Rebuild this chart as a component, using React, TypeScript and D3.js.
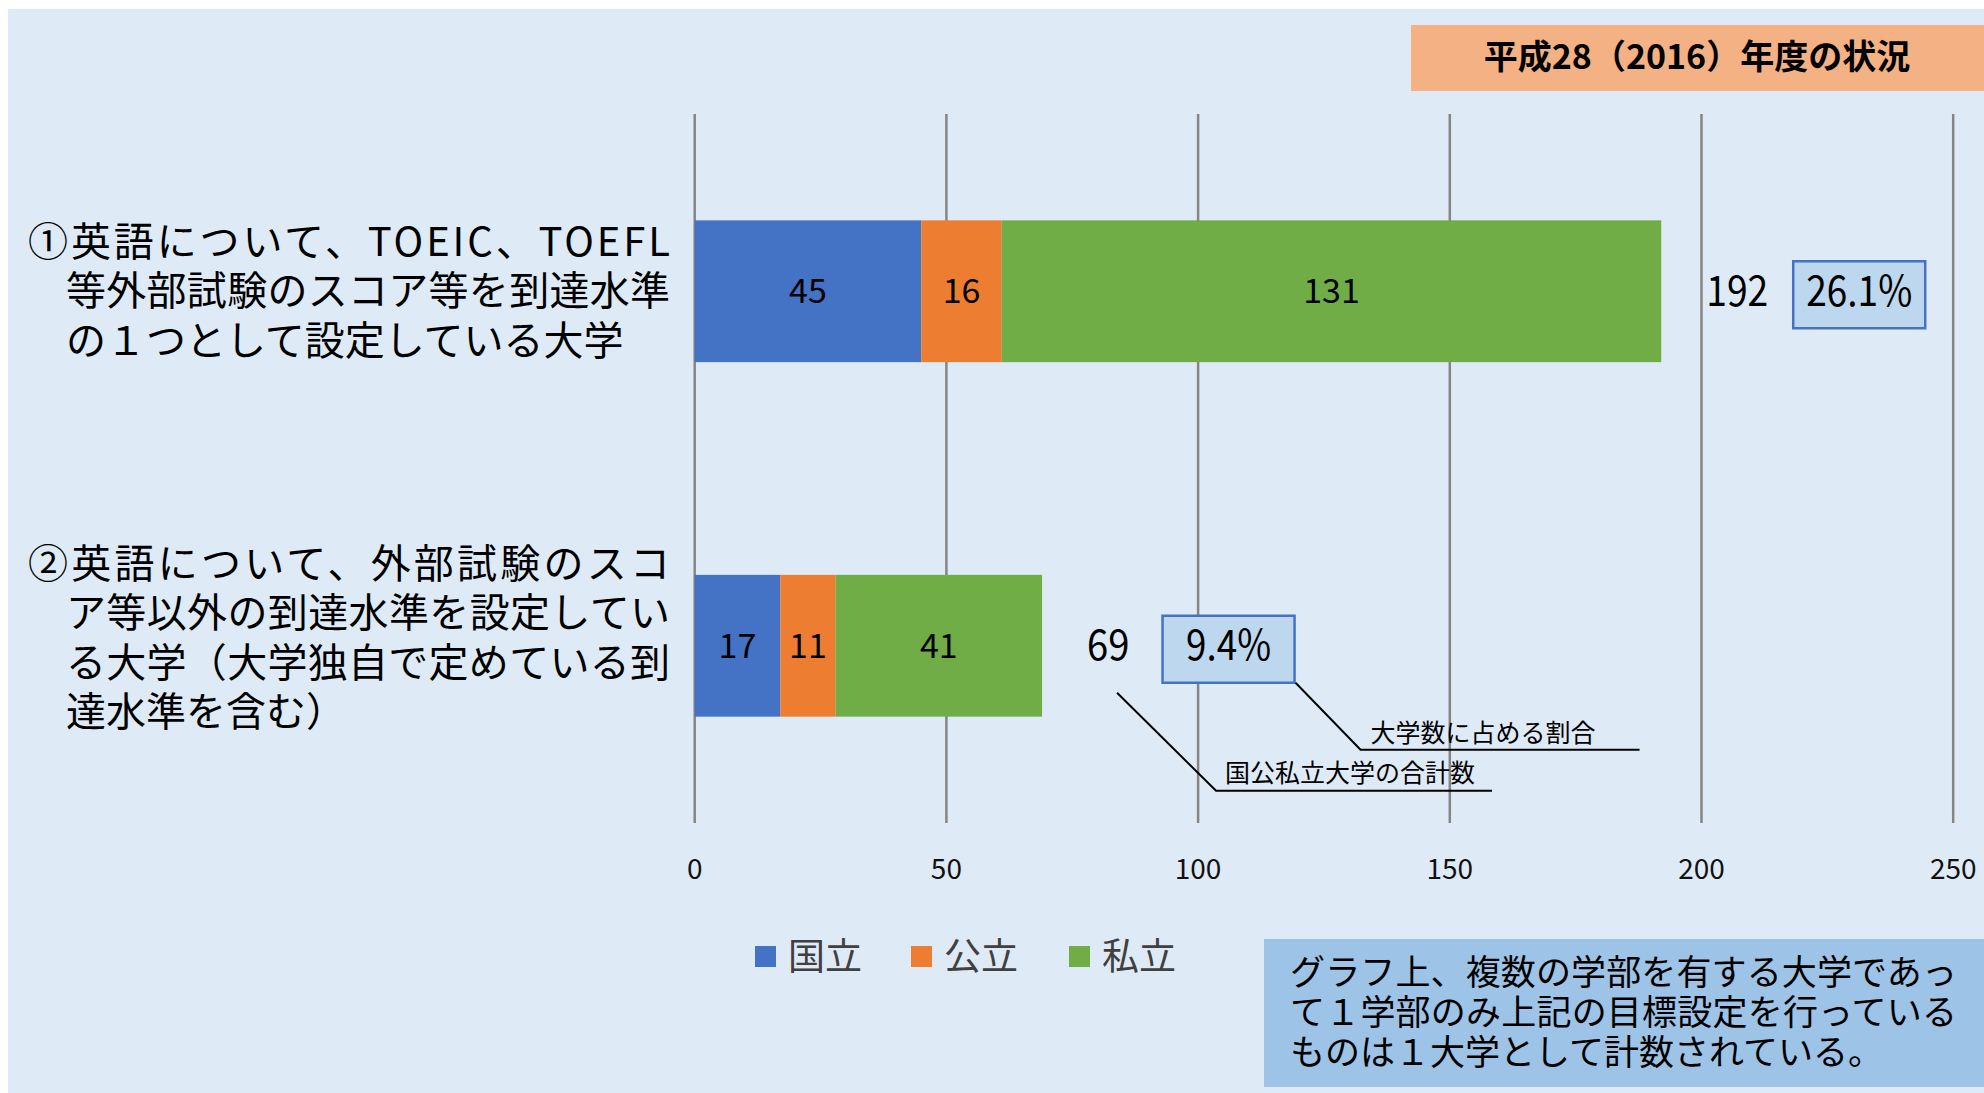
import React from 'react';
import * as d3 from 'd3';

// data
const categories = ['c1', 'c2'];
const labelLines = [
  ['①英語について、TOEIC、TOEFL', '等外部試験のスコア等を到達水準', 'の１つとして設定している大学'],
  ['②英語について、外部試験のスコ', 'ア等以外の到達水準を設定してい', 'る大学（大学独自で定めている到', '達水準を含む）'],
];
const seriesNames = ['国立', '公立', '私立'];
const seriesColors = ['#4472C4', '#ED7D31', '#70AD47'];
const kokuritsu = [45, 17];
const kouritsu = [16, 11];
const shiritsu = [131, 41];
const totals = [192, 69];
const shares = ['26.1%', '9.4%'];
const xTicks = [0, 50, 100, 150, 200, 250];

const title = '平成28（2016）年度の状況';
const noteLines = [
  'グラフ上、複数の学部を有する大学であっ',
  'て１学部のみ上記の目標設定を行っている',
  'ものは１大学として計数されている。',
];

const W = 1984;
const H = 1093;
const FONT = "'Noto Sans CJK JP', 'Noto Sans', sans-serif";

export default function App() {
  const x = d3.scaleLinear().domain([0, 250]).range([694.7, 1953.2]);
  const y = d3.scaleBand<string>()
    .domain(categories)
    .range([114, 823])
    .paddingInner(0.6)
    .paddingOuter(0.3);

  const rows = categories.map((c, i) => ({ c, vals: [kokuritsu[i], kouritsu[i], shiritsu[i]] }));
  const stacked = rows.map(r => {
    let acc = 0;
    return r.vals.map(v => {
      const s = { x0: acc, x1: acc + v, v };
      acc += v;
      return s;
    });
  });

  // line widths of category labels (text spacing stretched like the original)
  const lineWidths = [[642, 604, null], [642, 604, 604, null]];
  const totalWidths = [62, 42.5];
  const shareWidths = [106, 85];

  // positions for the annotation attached to the 2nd bar
  const c2 = y('c2')! + y.bandwidth() / 2;
  const tot2x = x(totals[1]) + 45;
  const box2x = tot2x + totalWidths[1] + 33;

  return (
    <svg width={W} height={H} style={{ position: 'absolute', left: 0, top: 0 }} fontFamily={FONT}>
      <rect x={8} y={9} width={W - 8} height={H - 9} fill="#DEEBF7" />

      {/* title box */}
      <rect x={1411} y={25} width={573} height={66} fill="#F4B183" />
      <text x={1697} y={57} dy="0.35em" textAnchor="middle" fontSize={34} fontWeight="bold" fill="#000">{title}</text>

      {/* gridlines */}
      {xTicks.map(t => (
        <line key={t} x1={x(t)} x2={x(t)} y1={114} y2={823} stroke="#858585" strokeWidth={2.5} />
      ))}

      {/* bars */}
      {stacked.map((segs, i) => {
        const cy = y(categories[i])!;
        return (
          <g key={i}>
            {segs.map((s, j) => (
              <g key={j}>
                <rect x={x(s.x0)} y={cy} width={x(s.x1) - x(s.x0)} height={y.bandwidth()} fill={seriesColors[j]} />
                <text x={(x(s.x0) + x(s.x1)) / 2} y={cy + y.bandwidth() / 2} dy="0.35em" textAnchor="middle" fontSize={34} fill="#000">{s.v}</text>
              </g>
            ))}
          </g>
        );
      })}

      {/* totals and shares */}
      {categories.map((c, i) => {
        const cy = y(c)! + y.bandwidth() / 2;
        const tx = x(totals[i]) + 45;
        const bx = tx + totalWidths[i] + (i === 0 ? 25 : 33);
        return (
          <g key={c}>
            <text x={tx} y={cy} dy="0.35em" fontSize={42} fill="#000" textLength={totalWidths[i]} lengthAdjust="spacingAndGlyphs">{totals[i]}</text>
            <rect x={bx} y={cy - 30} width={132} height={67} fill="#BDD7EE" stroke="#4472C4" strokeWidth={2.5} />
            <text x={bx + 66} y={cy} dy="0.35em" textAnchor="middle" fontSize={42} fill="#000" textLength={shareWidths[i]} lengthAdjust="spacingAndGlyphs">{shares[i]}</text>
          </g>
        );
      })}

      {/* annotation leaders */}
      <polyline points={`${tot2x + 30},${c2 + 47} ${tot2x + 129},${c2 + 145} ${tot2x + 405},${c2 + 145}`} fill="none" stroke="#000" strokeWidth={2} />
      <text x={tot2x + 138} y={c2 + 127} dy="0.35em" fontSize={25} fill="#000">国公私立大学の合計数</text>
      <polyline points={`${box2x + 133},${c2 + 37} ${box2x + 198},${c2 + 104} ${box2x + 477},${c2 + 104}`} fill="none" stroke="#000" strokeWidth={2} />
      <text x={box2x + 208} y={c2 + 87} dy="0.35em" fontSize={25} fill="#000">大学数に占める割合</text>

      {/* category labels */}
      {categories.map((c, i) => {
        const cy = y(c)! + y.bandwidth() / 2 - (i === 1 ? 8 : 0);
        const lines = labelLines[i];
        const step = 49.5;
        const top = cy - ((lines.length - 1) * step) / 2;
        return (
          <g key={c}>
            {lines.map((l, k) => {
              const lw = lineWidths[i][k];
              return (
                <text key={k} x={k === 0 ? 28 : 66} y={top + k * step} dy="0.35em" fontSize={40} fill="#000"
                  {...(lw ? { textLength: lw, lengthAdjust: 'spacing' } : {})}>{l}</text>
              );
            })}
          </g>
        );
      })}

      {/* x tick labels */}
      {xTicks.map(t => (
        <text key={t} x={x(t)} y={869} dy="0.35em" textAnchor="middle" fontSize={28} fill="#111">{t}</text>
      ))}

      {/* legend */}
      {seriesNames.map((n, i) => {
        const lx = [755, 911, 1069][i];
        return (
          <g key={n}>
            <rect x={lx} y={946} width={21} height={21} fill={seriesColors[i]} />
            <text x={lx + 33} y={957} dy="0.35em" fontSize={37} fill="#404040">{n}</text>
          </g>
        );
      })}

      {/* note box */}
      <rect x={1264} y={939} width={720} height={148} fill="#9DC3E6" />
      {noteLines.map((l, k) => (
        <text key={k} x={1290} y={973 + k * 40} dy="0.35em" fontSize={35} fill="#000"
          {...(k < 2 ? { textLength: 667, lengthAdjust: 'spacing' } : {})}>{l}</text>
      ))}
    </svg>
  );
}
